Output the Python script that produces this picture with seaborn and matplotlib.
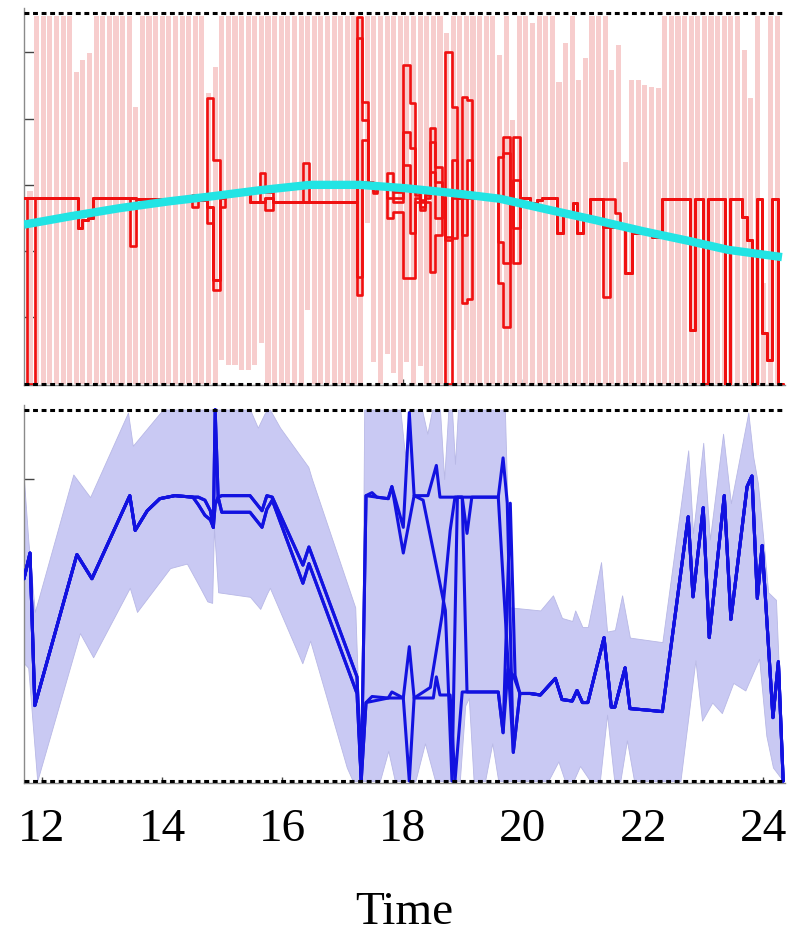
import numpy as np
import matplotlib
matplotlib.use("Agg")
import matplotlib.pyplot as plt
import seaborn as sns

# ---------------- top panel data ----------------
# pink interval bars (one per time step); default extent plus read-off deviations
bar_t = np.round(np.arange(11.80, 24.24, 0.11), 2)
BAR_TOP, BAR_BOT = 2.55, -3.0
top_dip_t = [11.80, 12.62, 12.72, 12.80, 13.51, 14.80, 14.91, 18.77, 19.65, 19.82, 20.17, 20.60,
             20.72, 20.94, 21.07, 21.48, 21.60, 21.73, 21.83, 21.95, 22.03, 22.12, 22.20, 22.28,
             23.68, 23.78, 24.06]
top_dip_v = [-0.10, 1.70, 1.89, 1.99, 1.18, 1.39, 1.78, 2.29, 1.96, 0.98, 2.44, 1.55,
             2.14, 1.58, 1.92, 1.73, 2.11, 0.35, 1.58, 1.58, 1.51, 1.48, 1.43, 1.46,
             2.04, 1.31, -1.48]
bot_dip_t = [15.04, 15.13, 15.22, 15.30, 15.40, 15.50, 15.70, 16.38, 17.37, 17.57, 17.70, 17.84,
             18.04, 18.30, 18.87]
bot_dip_v = [-2.64, -2.72, -2.72, -2.79, -2.79, -2.72, -2.38, -1.89, -0.57, -2.68, -2.56, -2.84,
             -2.68, -2.74, -2.19]

# red step traces (segment start times, four traces)
red_t = [11.70, 11.75, 11.88, 12.60, 12.67, 12.77, 12.85, 13.46, 13.56, 14.38,
         14.50, 14.60, 14.75, 14.85, 14.96, 15.04, 15.46, 15.63, 15.71, 15.84,
         16.34, 16.44, 17.24, 17.32, 17.42, 17.51, 17.57, 17.74, 17.84, 18.01,
         18.12, 18.21, 18.29, 18.37, 18.46, 18.54, 18.66, 18.71, 18.82, 18.91,
         18.99, 19.07, 19.15, 19.59, 19.67, 19.79, 19.84, 19.95, 20.12, 20.24,
         20.32, 20.57, 20.67, 20.84, 20.90, 21.00, 21.12, 21.33, 21.45, 21.53,
         21.62, 21.70, 21.82, 22.15, 22.32, 22.78, 22.87, 23.00, 23.08, 23.36,
         23.45, 23.65, 23.73, 23.81, 23.90, 23.98, 24.06, 24.15, 24.25]
RED_END = 24.33
red_T = [-0.20, -0.20, -0.20, -0.65, -0.53, -0.50, -0.20, -0.20, -0.22, -0.23,
         -0.15, -0.23, 1.31, 0.38, -0.15, -0.12, -0.26, 0.18, -0.11, -0.26,
         0.33, -0.26, 2.53, 1.25, 0.05, -0.03, -0.03, 0.18, -0.11, 1.81,
         1.24, -0.11, -0.23, -0.11, 0.86, 0.27, -0.20, 2.01, 1.18, -0.20,
         1.33, 1.28, -0.20, 0.42, 0.72, -0.20, 0.72, -0.20, -0.27, -0.23,
         -0.20, -0.72, -0.42, -0.27, -0.72, -0.53, -0.21, -0.21, -0.21, -0.42,
         -0.63, -1.33, -0.72, -0.78, -0.21, -2.19, -0.21, -3.0, -0.21, -3.0,
         -0.21, -0.48, -0.83, -3.0, -0.21, -2.23, -2.64, -0.21, -3.0]
red_M1 = [-0.20, -0.20, -0.20, -0.65, -0.53, -0.50, -0.20, -0.20, -0.22, -0.23,
          -0.23, -0.23, -0.33, -1.43, -0.20, -0.12, -0.26, -0.26, -0.20, -0.26,
          -0.26, -0.26, 2.22, 0.98, 0.03, -0.05, -0.03, 0.00, -0.20, 0.80,
          0.56, -0.15, -0.26, -0.15, 0.65, 0.05, -0.20, -0.78, 0.38, -0.20,
          -0.20, 0.38, -0.20, -0.20, 0.48, -0.20, 0.08, -0.20, -0.27, -0.23,
          -0.20, -0.72, -0.42, -0.27, -0.72, -0.53, -0.21, -0.63, -0.63, -0.63,
          -0.63, -1.33, -0.72, -0.78, -0.21, -2.19, -0.21, -3.0, -0.21, -3.0,
          -0.21, -0.48, -0.83, -3.0, -0.21, -2.23, -2.64, -0.21, -3.0]
red_M2 = [-0.20, -0.20, -0.20, -0.65, -0.53, -0.50, -0.20, -0.20, -0.22, -0.23,
          -0.23, -0.23, -0.33, -1.43, -0.20, -0.12, -0.26, -0.26, -0.20, -0.26,
          -0.26, -0.26, -1.39, 0.68, 0.00, -0.10, -0.03, -0.20, -0.26, 0.30,
          -0.72, -0.20, -0.33, -0.20, 0.20, -0.50, -0.20, -0.83, -0.20, -0.20,
          -0.75, -0.20, -0.20, -0.86, -1.18, -0.20, -0.65, -0.20, -0.27, -0.23,
          -0.20, -0.72, -0.42, -0.27, -0.72, -0.53, -0.21, -0.63, -0.63, -0.63,
          -0.63, -1.33, -0.72, -0.78, -0.21, -2.19, -0.21, -3.0, -0.21, -3.0,
          -0.21, -0.48, -0.83, -3.0, -0.21, -2.23, -2.64, -0.21, -3.0]
red_B = [-0.20, -3.0, -0.20, -0.65, -0.53, -0.50, -0.20, -0.92, -0.22, -0.23,
         -0.33, -0.23, -0.57, -1.58, -0.33, -0.12, -0.26, -0.26, -0.38, -0.26,
         -0.26, -0.26, -1.66, 0.05, -0.03, -0.12, -0.03, -0.50, -0.41, -1.40,
         -1.40, -0.26, -0.38, -0.26, -1.31, -0.75, -0.20, -3.0, -0.80, -0.20,
         -1.78, -1.73, -0.20, -1.48, -2.14, -0.20, -1.18, -0.20, -0.27, -0.23,
         -0.20, -0.72, -0.42, -0.27, -0.72, -0.53, -0.21, -1.69, -0.63, -0.63,
         -0.63, -1.33, -0.72, -0.78, -0.21, -2.19, -0.21, -3.0, -0.21, -3.0,
         -0.21, -0.48, -0.83, -3.0, -0.21, -2.23, -2.64, -0.21, -3.0]

# cyan smooth curve
cyan_t = [11.70, 12.50, 13.30, 14.10, 14.85, 15.63, 16.46, 17.29, 18.04, 18.80, 19.62,
          20.45, 21.20, 22.00, 22.78, 23.41, 24.31]
cyan_v = [-0.60, -0.47, -0.35, -0.25, -0.17, -0.08, 0.00, 0.00, -0.05, -0.12, -0.21,
          -0.38, -0.53, -0.70, -0.85, -0.98, -1.09]

# ---------------- bottom panel data ----------------
r1_t = [11.70, 11.80, 11.88, 12.58, 12.83, 13.46, 13.55, 13.75, 13.96, 14.21,
        14.51, 14.60, 14.71, 14.80, 14.85, 14.88, 14.93, 14.99, 15.46, 15.66,
        15.74, 15.83, 16.34, 16.44, 17.24]
r1A_v = [1.34, 1.51, 0.50, 1.50, 1.34, 1.89, 1.66, 1.79, 1.87, 1.89,
         1.88, 1.88, 1.86, 1.79, 1.68, 2.46, 1.88, 1.89, 1.89, 1.79,
         1.89, 1.88, 1.43, 1.55, 0.69]
r1B_v = [1.34, 1.51, 0.50, 1.50, 1.34, 1.89, 1.66, 1.79, 1.87, 1.89,
         1.88, 1.83, 1.76, 1.73, 1.68, 1.83, 1.88, 1.78, 1.78, 1.68,
         1.80, 1.86, 1.31, 1.44, 0.58]

r2A_t = [17.31, 17.39, 17.49, 17.57, 17.76, 17.82, 18.01, 18.11, 18.19, 18.42,
         18.56, 18.62, 18.99, 19.07, 19.15, 19.59, 19.67, 19.74, 19.84, 19.95]
r2A_v = [0.00, 1.89, 1.91, 1.88, 1.87, 1.95, 1.68, 2.44, 1.89, 1.89,
         2.09, 1.88, 1.88, 1.64, 1.88, 1.88, 2.14, 1.84, 0.19, 0.58]
r2B_t = [17.31, 17.39, 17.49, 17.76, 17.82, 18.01, 18.11, 18.19, 18.51, 18.56,
         18.62, 18.79, 18.87, 18.99, 19.59, 19.67, 19.75, 19.84, 19.95]
r2B_v = [0.00, 0.52, 0.56, 0.55, 0.59, 0.55, 0.89, 0.55, 0.55, 0.69,
         0.57, 0.57, 0.00, 0.59, 0.59, 0.32, 0.74, 0.70, 0.58]
r2C_t = [17.31, 17.39, 17.57, 17.76, 17.82, 18.01, 18.19, 18.34, 18.71, 18.82,
         18.91, 19.59, 19.84, 19.95]
r2C_v = [0.00, 1.89, 1.88, 1.87, 1.95, 1.51, 1.89, 1.86, 1.13, 0.00,
         1.88, 1.88, 0.19, 0.58]
r2D_t = [17.31, 17.39, 17.76, 18.01, 18.11, 18.19, 18.46, 18.66, 18.79, 18.87,
         18.99, 19.07, 19.59, 19.67, 19.79, 19.87, 19.95]
r2D_v = [0.00, 0.52, 0.55, 0.55, 0.00, 0.55, 0.62, 1.11, 1.66, 1.88,
         1.88, 0.59, 0.59, 0.32, 1.84, 0.70, 0.58]

r3_t = [20.12, 20.29, 20.54, 20.65, 20.82, 20.90, 20.99, 21.08, 21.35, 21.47,
        21.53, 21.70, 21.78, 22.07, 22.32, 22.75, 22.83, 23.00, 23.10, 23.35,
        23.46, 23.73, 23.81, 23.90, 23.98, 24.16, 24.25, 24.33]
r3_v = [0.58, 0.57, 0.68, 0.54, 0.53, 0.60, 0.52, 0.52, 0.95, 0.49,
        0.49, 0.75, 0.48, 0.47, 0.46, 1.75, 1.22, 1.81, 0.95, 1.89,
        1.07, 1.95, 2.02, 1.21, 1.56, 0.42, 0.79, 0.00]

band_up_t = [11.70, 11.77, 11.88, 12.52, 12.80, 13.43, 13.51, 14.01, 15.46, 15.59,
             15.71, 15.79, 15.96, 16.43, 16.49, 17.21, 17.31, 17.36, 17.96, 18.04,
             18.12, 18.32, 18.41, 18.49, 18.62, 18.69, 18.76, 18.82, 18.87, 18.92,
             19.70, 19.79, 20.29, 20.50, 20.65, 20.82, 20.87, 20.99, 21.08, 21.30,
             21.40, 21.53, 21.65, 21.78, 22.32, 22.75, 22.83, 23.00, 23.11, 23.33,
             23.46, 23.75, 23.83, 23.91, 24.00, 24.08, 24.21, 24.33]
band_up_v = [1.99, 1.60, 1.12, 2.03, 1.88, 2.44, 2.22, 2.46, 2.46, 2.34,
             2.44, 2.46, 2.34, 2.08, 2.00, 1.15, 0.02, 2.46, 2.46, 2.15,
             2.46, 2.46, 2.30, 2.46, 2.46, 2.00, 2.46, 2.46, 2.10, 2.46,
             2.46, 1.15, 1.13, 1.23, 1.08, 1.06, 1.13, 1.02, 1.02, 1.45,
             0.99, 1.00, 1.23, 0.95, 0.92, 2.19, 1.64, 2.24, 1.60, 2.30,
             1.84, 2.44, 2.15, 1.97, 1.60, 1.25, 1.20, 0.05]
band_lo_t = [11.70, 11.77, 11.92, 12.63, 12.85, 13.46, 13.58, 14.13, 14.41, 14.63,
             14.75, 14.83, 14.86, 14.93, 15.46, 15.63, 15.74, 15.79, 16.33, 16.46,
             17.07, 17.17, 17.62, 17.76, 17.87, 18.21, 18.37, 18.54, 18.95, 19.04,
             19.10, 19.18, 19.37, 19.49, 19.59, 20.42, 20.59, 20.70, 20.84, 20.95,
             21.12, 21.28, 21.40, 21.52, 21.62, 21.73, 21.85, 22.62, 22.87, 22.98,
             23.15, 23.31, 23.50, 23.70, 23.93, 24.05, 24.16, 24.33]
band_lo_v = [0.78, 0.75, 0.00, 0.98, 0.82, 1.28, 1.12, 1.41, 1.44, 1.28,
             1.19, 1.18, 1.68, 1.25, 1.22, 1.14, 1.24, 1.28, 0.78, 0.93,
             0.09, 0.00, 0.00, 0.20, 0.00, 0.00, 0.25, 0.00, 0.00, 0.50,
             0.55, 0.00, 0.00, 0.25, 0.00, 0.00, 0.13, 0.00, 0.00, 0.10,
             0.00, 0.00, 0.44, 0.00, 0.00, 0.27, 0.00, 0.00, 0.80, 0.40,
             0.52, 0.45, 0.65, 0.60, 0.81, 0.30, 0.09, 0.00]

x_ticks = [12, 14, 16, 18, 20, 22, 24]

# ---------------- styling ----------------
PINK = "#f7cdcd"
RED = "#f01010"
CYAN = "#22e4e4"
BLUE = "#1212e0"
BAND = "#c9c9f3"
DOT = dict(color="black", lw=2.2, ls=(0, (1.6, 1.2)), zorder=6, clip_on=False)

sns.set_theme(style="white")
plt.rcParams["font.family"] = ["Liberation Serif", "DejaVu Serif"]

fig = plt.figure(figsize=(7.95, 9.38), dpi=100)
ax1 = fig.add_axes([0.0302, 0.5896, 0.9572, 0.4019])
ax2 = fig.add_axes([0.0302, 0.1652, 0.9572, 0.4030])

# --- top panel ---
tops = np.full(len(bar_t), BAR_TOP)
bots = np.full(len(bar_t), BAR_BOT)
for t, v in zip(top_dip_t, top_dip_v):
    tops[int(np.argmin(np.abs(bar_t - t)))] = v
for t, v in zip(bot_dip_t, bot_dip_v):
    bots[int(np.argmin(np.abs(bar_t - t)))] = v
ax1.bar(bar_t, tops - bots, bottom=bots, width=0.085, color=PINK, linewidth=0, zorder=1)

for vals in (red_T, red_M1, red_M2, red_B):
    sns.lineplot(x=red_t + [RED_END], y=vals + [vals[-1]], ax=ax1, color=RED, lw=1.9,
                 drawstyle="steps-post", estimator=None, sort=False, zorder=3)
sns.lineplot(x=cyan_t, y=cyan_v, ax=ax1, color=CYAN, lw=6, estimator=None, sort=False,
             zorder=4, solid_capstyle="butt")
ax1.axhline(2.59, **DOT)
ax1.axhline(-3.0, **DOT)
ax1.set_ylim(-3.02, 2.67)
ax1.set_yticks([-2, -1, 0, 1, 2])

# --- bottom panel ---
grid = np.union1d(band_up_t, band_lo_t)
ax2.fill_between(grid, np.interp(grid, band_lo_t, band_lo_v), np.interp(grid, band_up_t, band_up_v),
                 color=BAND, linewidth=0.6, edgecolor="#b8b8e6", zorder=1)
traces = [
    (r1_t + r2A_t + r3_t, r1A_v + r2A_v + r3_v),
    (r1_t + r2B_t + r3_t, r1B_v + r2B_v + r3_v),
    (r1_t + r2C_t + r3_t, r1A_v + r2C_v + r3_v),
    (r1_t + r2D_t + r3_t, r1B_v + r2D_v + r3_v),
]
for tt, vv in traces:
    sns.lineplot(x=tt, y=vv, ax=ax2, color=BLUE, lw=2.2, estimator=None, sort=False, zorder=3)
ax2.axhline(2.46, **DOT)
ax2.axhline(0.0, **DOT)
ax2.set_ylim(-0.013, 2.49)
ax2.set_yticks([1, 2])

for ax in (ax1, ax2):
    ax.set_xlim(11.70, 24.36)
    ax.set_xticks(x_ticks)
    ax.set_xlabel("")
    ax.set_ylabel("")
    for s in ("top", "right"):
        ax.spines[s].set_visible(False)
    for s in ("left", "bottom"):
        ax.spines[s].set_color("#8a8a8a")
        ax.spines[s].set_linewidth(1.0)
    ax.tick_params(axis="both", direction="in", left=True, bottom=True, color="#444444", width=1)
    ax.tick_params(axis="y", length=7, labelleft=False)
    ax.tick_params(axis="x", length=4)
    ax.grid(False)

ax1.tick_params(axis="x", labelbottom=False)
ax2.tick_params(axis="x", labelsize=34, pad=18, labelcolor="black")

fig.text(0.508, 0.027, "Time", ha="center", va="center", fontsize=34, color="black")

fig.savefig("out.png", dpi=100)
